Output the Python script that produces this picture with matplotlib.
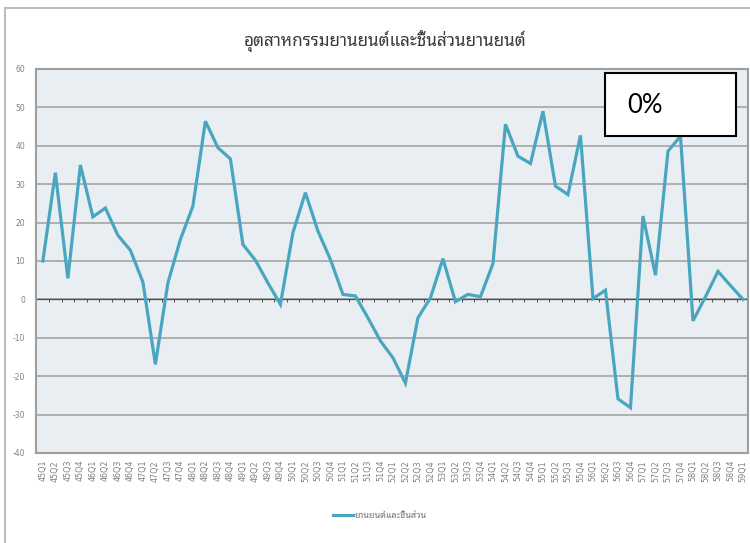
import matplotlib
matplotlib.use("Agg")
import matplotlib.pyplot as plt
from matplotlib import font_manager
from matplotlib.patches import Rectangle

# ข้อมูลอัตราการเปลี่ยนแปลง (%) รายไตรมาส
quarters = ["%dQ%d" % (y, q) for y in range(45, 59) for q in range(1, 5)] + ["59Q1"]
values = [10, 33, 5.5, 35, 21.5, 23.8, 16.7, 12.8, 4.5, -16.9,
          4.3, 15.6, 24.3, 46.4, 39.5, 36.6, 14.3, 10.2, 4.3, -1.3,
          17.4, 27.8, 17.8, 10.4, 1.3, 0.9, -4.8, -10.8, -15.2, -21.8,
          -4.8, 0.4, 10.6, -0.6, 1.3, 0.7, 9.3, 45.6, 37.3, 35.4,
          49, 29.5, 27.3, 42.7, 0.2, 2.4, -25.9, -28.2, 21.7, 6.3,
          38.6, 42.5, -5.6, 0.7, 7.3, 3.6, 0]
yticks = list(range(-40, 70, 10))
title = "อุตสาหกรรมยานยนต์และชิ้นส่วนยานยนต์"
series_name = "ยานยนต์และชิ้นส่วน"
note = "0%"

# หาฟอนต์ภาษาไทยที่ติดตั้งไว้
names = set(f.name for f in font_manager.fontManager.ttflist)
thai = [n for n in ["Noto Sans Thai Looped", "Noto Sans Thai", "Sarabun", "Athiti"] if n in names]
thai_font = thai[:1] + ["DejaVu Sans"]

W, H = 750, 543
fig = plt.figure(figsize=(7.5, 5.43), dpi=100)
fig.patch.set_facecolor("white")

# กรอบของรูป
fig.patches.append(Rectangle((4.5 / W, -0.1), 1.2, 1 - 8 / H + 0.1,
                             transform=fig.transFigure, fill=False,
                             edgecolor="#bdbdbd", lw=1.5, zorder=0))

ax = fig.add_axes([36 / W, 1 - 453 / H, 712 / W, 384 / H])
ax.set_facecolor("#e9eef2")
x = list(range(len(values)))
ax.plot(x, values, color="#4aa6c0", lw=2.3, solid_joinstyle="miter", zorder=3)

ax.set_xlim(-0.55, len(values) - 0.6)
ax.set_ylim(-40, 60)
ax.set_yticks(yticks)
ax.set_yticklabels([str(v) for v in yticks], fontsize=5.5, color="#808080")
ax.set_xticks(x)
ax.set_xticklabels(quarters, rotation=90, fontsize=5.8, color="#808080")
ax.tick_params(length=0)
ax.tick_params(axis="y", pad=8)
ax.tick_params(axis="x", pad=5)
for s in ax.spines.values():
    s.set_color("#9e9e9e")
    s.set_linewidth(1.5)
ax.grid(axis="y", color="#aaaaaa", lw=1.3)
ax.set_axisbelow(True)

# เส้นแกนที่ระดับศูนย์พร้อมขีดแบ่ง
ax.axhline(0, color="#4d4d4d", lw=0.9, zorder=2)
ax.vlines([i + 0.5 for i in x[:-1]], -0.8, 0, color="#4d4d4d", lw=0.7, zorder=2)

fig.text(385 / W, 1 - 41 / H, title, ha="center", va="center",
         fontsize=12.3, color="#3a3a3a", family=thai_font)

leg = fig.legend([ax.lines[0]], [series_name], loc="center",
                 bbox_to_anchor=(380 / W, 1 - 516 / H), frameon=False,
                 prop={"family": thai_font, "size": 6.5}, handlelength=2.2,
                 handletextpad=0.2)
for t in leg.get_texts():
    t.set_color("#707070")

# กล่องข้อความ
fig.patches.append(Rectangle((605 / W, 1 - 136 / H), 131 / W, 63 / H,
                             transform=fig.transFigure, facecolor="white",
                             edgecolor="black", lw=1.5, zorder=5))
fig.text(627 / W, 1 - 106 / H, note, ha="left", va="center", fontsize=18.5,
         family="Lato", color="black", zorder=6)

fig.savefig("out.png", dpi=100)
